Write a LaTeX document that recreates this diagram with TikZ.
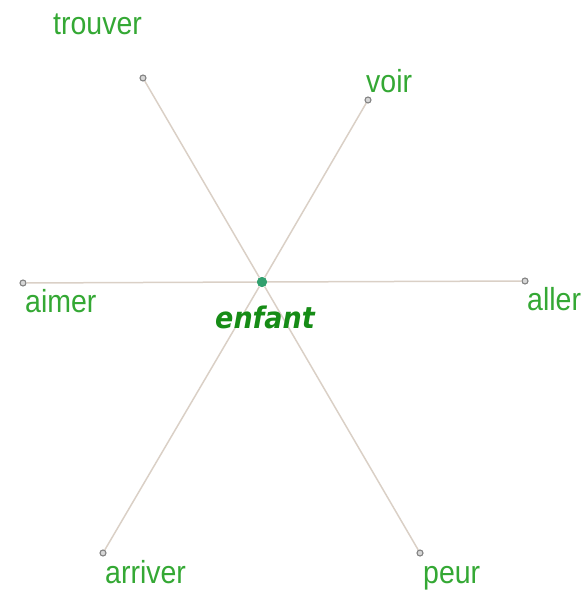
\documentclass[tikz,border=0pt]{standalone}
\usepackage{fontspec}
\setmainfont{Liberation Sans}
\newfontfamily\heavyfont{DejaVu Sans}
\definecolor{lblgreen}{RGB}{52,168,52}
\definecolor{hubgreen}{RGB}{22,140,22}
\definecolor{spoke}{RGB}{218,208,198}
\definecolor{dotgray}{RGB}{130,130,130}
\definecolor{dotfill}{RGB}{215,215,215}
\definecolor{hubdot}{RGB}{50,160,110}
\begin{document}
\begin{tikzpicture}[x=1pt,y=-1pt,
  lbl/.style={inner sep=0pt, anchor=base west, text=lblgreen, font=\fontsize{28.5}{30}\selectfont},
  enddot/.style={circle, draw=dotgray, fill=dotfill, line width=1.1pt, inner sep=0pt, minimum size=6pt},
  hubnode/.style={circle, fill=hubdot, inner sep=0pt, minimum size=10pt},
  spokeline/.style={draw=spoke, line width=1.5pt}]
\useasboundingbox (0,0) rectangle (587,591);
\node[hubnode] (c) at (262,282) {};
\node[enddot] (tr) at (143,78) {};
\node[enddot] (vo) at (368,100) {};
\node[enddot] (ai) at (23,283) {};
\node[enddot] (al) at (525,281) {};
\node[enddot] (ar) at (103,553) {};
\node[enddot] (pe) at (420,553) {};
\draw[spokeline] (c) -- (tr);
\draw[spokeline] (c) -- (vo);
\draw[spokeline] (c) -- (ai);
\draw[spokeline] (c) -- (al);
\draw[spokeline] (c) -- (ar);
\draw[spokeline] (c) -- (pe);
\node[hubnode] at (c) {};
\node[lbl] (ltr) at (53,35) {\scalebox{1}[1.12]{trouver}};
\node[lbl] (lvo) at (366,93) {\scalebox{1}[1.12]{voir}};
\node[lbl] (lai) at (25,312) {\scalebox{1}[1.12]{aimer}};
\node[lbl] (lal) at (527,310) {\scalebox{1}[1.12]{aller}};
\node[lbl] (lar) at (105,583) {\scalebox{1}[1.12]{arriver}};
\node[lbl] (lpe) at (423,583) {\scalebox{1}[1.12]{peur}};
\node[inner sep=0pt, anchor=base west, text=hubgreen, font=\heavyfont\bfseries\itshape\fontsize{27}{30}\selectfont] (le) at (215,328) {\scalebox{1}[1.1]{enfant}};
\end{tikzpicture}
\end{document}
